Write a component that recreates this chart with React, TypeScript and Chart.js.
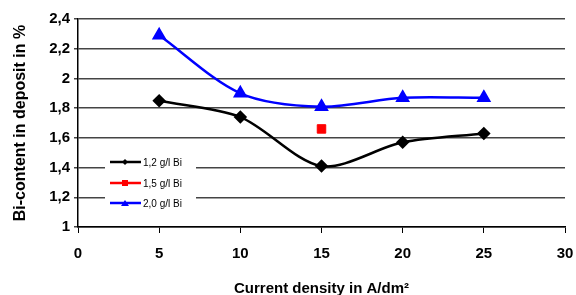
import React, { useEffect, useRef } from "react";
import { Chart, registerables } from "chart.js";

Chart.register(...registerables);

const currentDensity = [5, 10, 15, 20, 25];
const bi12 = [1.85, 1.74, 1.41, 1.57, 1.63];
const bi15x = [15];
const bi15 = [1.66];
const bi20 = [2.29, 1.9, 1.81, 1.87, 1.87];
const seriesLabels = ["1,2 g/l Bi", "1,5 g/l Bi", "2,0 g/l Bi"];
const yTicks = [1, 1.2, 1.4, 1.6, 1.8, 2, 2.2, 2.4];
const xTitle = "Current density in A/dm²";
const yTitle = "Bi-content in deposit in %";

const FONT = "'Liberation Sans', Arial, sans-serif";

const legendPlugin = {
  id: "insideLegend",
  afterDatasetsDraw(chart: any) {
    const ctx = chart.ctx;
    ctx.save();
    ctx.fillStyle = "#fff";
    ctx.fillRect(105, 150, 91, 62);
    const ys = [162, 183, 203];
    chart.data.datasets.forEach((ds: any, i: number) => {
      const y = ys[i];
      ctx.strokeStyle = ds.borderColor;
      ctx.lineWidth = 2.5;
      ctx.beginPath();
      ctx.moveTo(110, y);
      ctx.lineTo(141, y);
      ctx.stroke();
      ctx.fillStyle = ds.backgroundColor;
      const cx = 125;
      ctx.beginPath();
      if (i === 0) {
        ctx.moveTo(cx, y - 3);
        ctx.lineTo(cx + 3, y);
        ctx.lineTo(cx, y + 3);
        ctx.lineTo(cx - 3, y);
        ctx.closePath();
        ctx.fill();
      } else if (i === 1) {
        ctx.fillRect(cx - 3, y - 3, 6, 6);
      } else {
        ctx.moveTo(cx, y - 3);
        ctx.lineTo(cx + 4, y + 3);
        ctx.lineTo(cx - 4, y + 3);
        ctx.closePath();
        ctx.fill();
      }
      ctx.fillStyle = "#000";
      ctx.font = "10px 'Liberation Sans', Arial, sans-serif";
      ctx.textAlign = "left";
      ctx.textBaseline = "middle";
      ctx.fillText(seriesLabels[i], 143, y + 1);
    });
    ctx.restore();
  },
};

export default function App() {
  const ref = useRef<HTMLCanvasElement>(null);
  useEffect(() => {
    if (!ref.current) return;
    const chart = new Chart(ref.current, {
      type: "line",
      data: {
        datasets: [
          {
            label: seriesLabels[0],
            data: currentDensity.map((x, i) => ({ x, y: bi12[i] })),
            borderColor: "#000",
            backgroundColor: "#000",
            borderWidth: 2.5,
            pointStyle: "rectRot",
            pointRadius: 5,
            tension: 0.3,
          },
          {
            label: seriesLabels[1],
            data: bi15x.map((x, i) => ({ x, y: bi15[i] })),
            borderColor: "#ff0000",
            backgroundColor: "#ff0000",
            showLine: false,
            pointStyle: "rect",
            pointRadius: 6,
          },
          {
            label: seriesLabels[2],
            data: currentDensity.map((x, i) => ({ x, y: bi20[i] })),
            borderColor: "#0000ff",
            backgroundColor: "#0000ff",
            borderWidth: 2.5,
            pointStyle: "triangle",
            pointRadius: 6,
            tension: 0.3,
          },
        ],
      },
      options: {
        animation: false,
        responsive: false,
        layout: { padding: { top: 19, right: 11, left: 0, bottom: 0 } },
        plugins: { legend: { display: false }, tooltip: { enabled: false } },
        scales: {
          x: {
            type: "linear",
            min: 0,
            max: 30,
            ticks: {
              stepSize: 5,
              padding: 12,
              color: "#000",
              font: { family: FONT, size: 15, weight: "bold" },
            },
            grid: { drawOnChartArea: false, drawTicks: true, tickLength: 6, color: "#000", lineWidth: 1 },
            border: { display: true, color: "#000", width: 1.5 },
            title: {
              display: true,
              text: xTitle,
              color: "#000",
              font: { family: FONT, size: 15, weight: "bold" },
              padding: { top: 8, bottom: -3 },
            },
            afterFit(scale: any) {
              scale.height = 68;
              scale.paddingLeft = 0;
              scale.paddingRight = 0;
            },
          },
          y: {
            min: 1,
            max: 2.4,
            afterBuildTicks(scale: any) {
              scale.ticks = yTicks.map((v) => ({ value: v }));
            },
            ticks: {
              padding: 4,
              color: "#000",
              font: { family: FONT, size: 15, weight: "bold" },
              callback: (v: any) => String(Math.round(Number(v) * 10) / 10).replace(".", ","),
            },
            grid: { drawTicks: true, tickLength: 4, color: "#444", lineWidth: 1.5 },
            border: { display: true, color: "#000", width: 1.5 },
            title: {
              display: true,
              text: yTitle,
              color: "#000",
              font: { family: FONT, size: 16, weight: "bold" },
              padding: { top: 11, bottom: 4 },
            },
            afterFit(scale: any) {
              scale.width = 78;
              scale.paddingTop = 0;
              scale.paddingBottom = 0;
            },
          },
        },
      },
      plugins: [legendPlugin],
    } as any);
    return () => chart.destroy();
  }, []);
  return (
    <div style={{ position: "absolute", left: 0, top: 0, width: 576, height: 295, background: "#fff" }}>
      <canvas ref={ref} width={576} height={295} />
    </div>
  );
}
